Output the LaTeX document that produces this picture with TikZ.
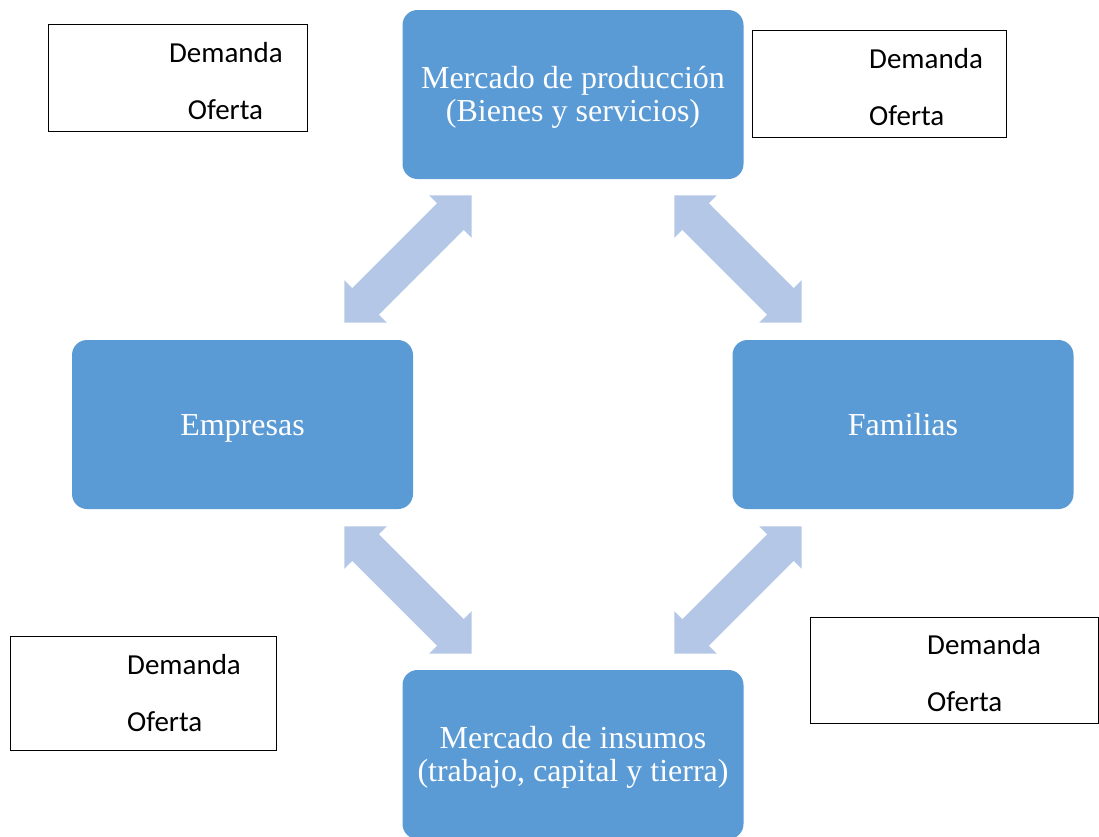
\documentclass[tikz,border=0pt]{standalone}
\usepackage{fontspec}
\setmainfont{Liberation Serif}
\newfontfamily\calibri{Carlito}
\definecolor{boxblue}{HTML}{5B9BD5}
\definecolor{arrowblue}{HTML}{B4C7E7}
\begin{document}
\begin{tikzpicture}[x=1pt,y=-1pt,
  bluebox/.style={draw=none,fill=boxblue,rounded corners=15,minimum width=341,minimum height=169,inner sep=0},
  btext/.style={anchor=base,inner sep=0,text=white,font=\fontsize{32}{33}\selectfont},
  wbox/.style={draw=black,line width=1,fill=white,inner sep=0},
  dtext/.style={anchor=base west,inner sep=0,font=\calibri\fontsize{29}{34}\selectfont},
  dtextc/.style={anchor=base,inner sep=0,font=\calibri\fontsize{29}{34}\selectfont},
  dblarrow/.style={fill=arrowblue,draw=none}]
\useasboundingbox (0,0) rectangle (1099,836);
\clip (0,0) rectangle (1099,836);

% block arrows
\foreach \cx/\cy/\ang in {408/259/45, 738/259/-45, 408/590/-45, 738/590/45}{
  \path[dblarrow,shift={(\cx,\cy)},rotate=\ang]
    (90,0) -- (60,30) -- (60,18.75) -- (-60,18.75) -- (-60,30) -- (-90,0)
    -- (-60,-30) -- (-60,-18.75) -- (60,-18.75) -- (60,-30) -- cycle;
}

% blue boxes
\node[bluebox] (prod) at (573,94.5) {};
\node[btext] (prod1) at (573,88.5) {Mercado de producción};
\node[btext] (prod2) at (573,121) {(Bienes y servicios)};
\node[bluebox] (emp) at (242.5,424.5) {};
\node[btext] (empt) at (242.5,435.5) {Empresas};
\node[bluebox] (fam) at (903,424.5) {};
\node[btext] (famt) at (903,435.5) {Familias};
\node[bluebox] (ins) at (573,754.5) {};
\node[btext] (ins1) at (573,748.5) {Mercado de insumos};
\node[btext] (ins2) at (573,781.5) {(trabajo, capital y tierra)};

% white boxes
\draw[wbox] (48,24) rectangle (307,131) coordinate (tlb);
\node[dtextc] (tl1) at (226,62) {Demanda};
\node[dtextc] (tl2) at (225.5,119) {Oferta};

\draw[wbox] (752,30) rectangle (1006,137) coordinate (trb);
\node[dtext] (tr1) at (869,68) {Demanda};
\node[dtext] (tr2) at (869,125) {Oferta};

\draw[wbox] (10,636) rectangle (276,750) coordinate (blb);
\node[dtext] (bl1) at (127,674) {Demanda};
\node[dtext] (bl2) at (127,731) {Oferta};

\draw[wbox] (810,617) rectangle (1098,723) coordinate (brb);
\node[dtext] (br1) at (927,654) {Demanda};
\node[dtext] (br2) at (927,711) {Oferta};
\end{tikzpicture}
\end{document}
